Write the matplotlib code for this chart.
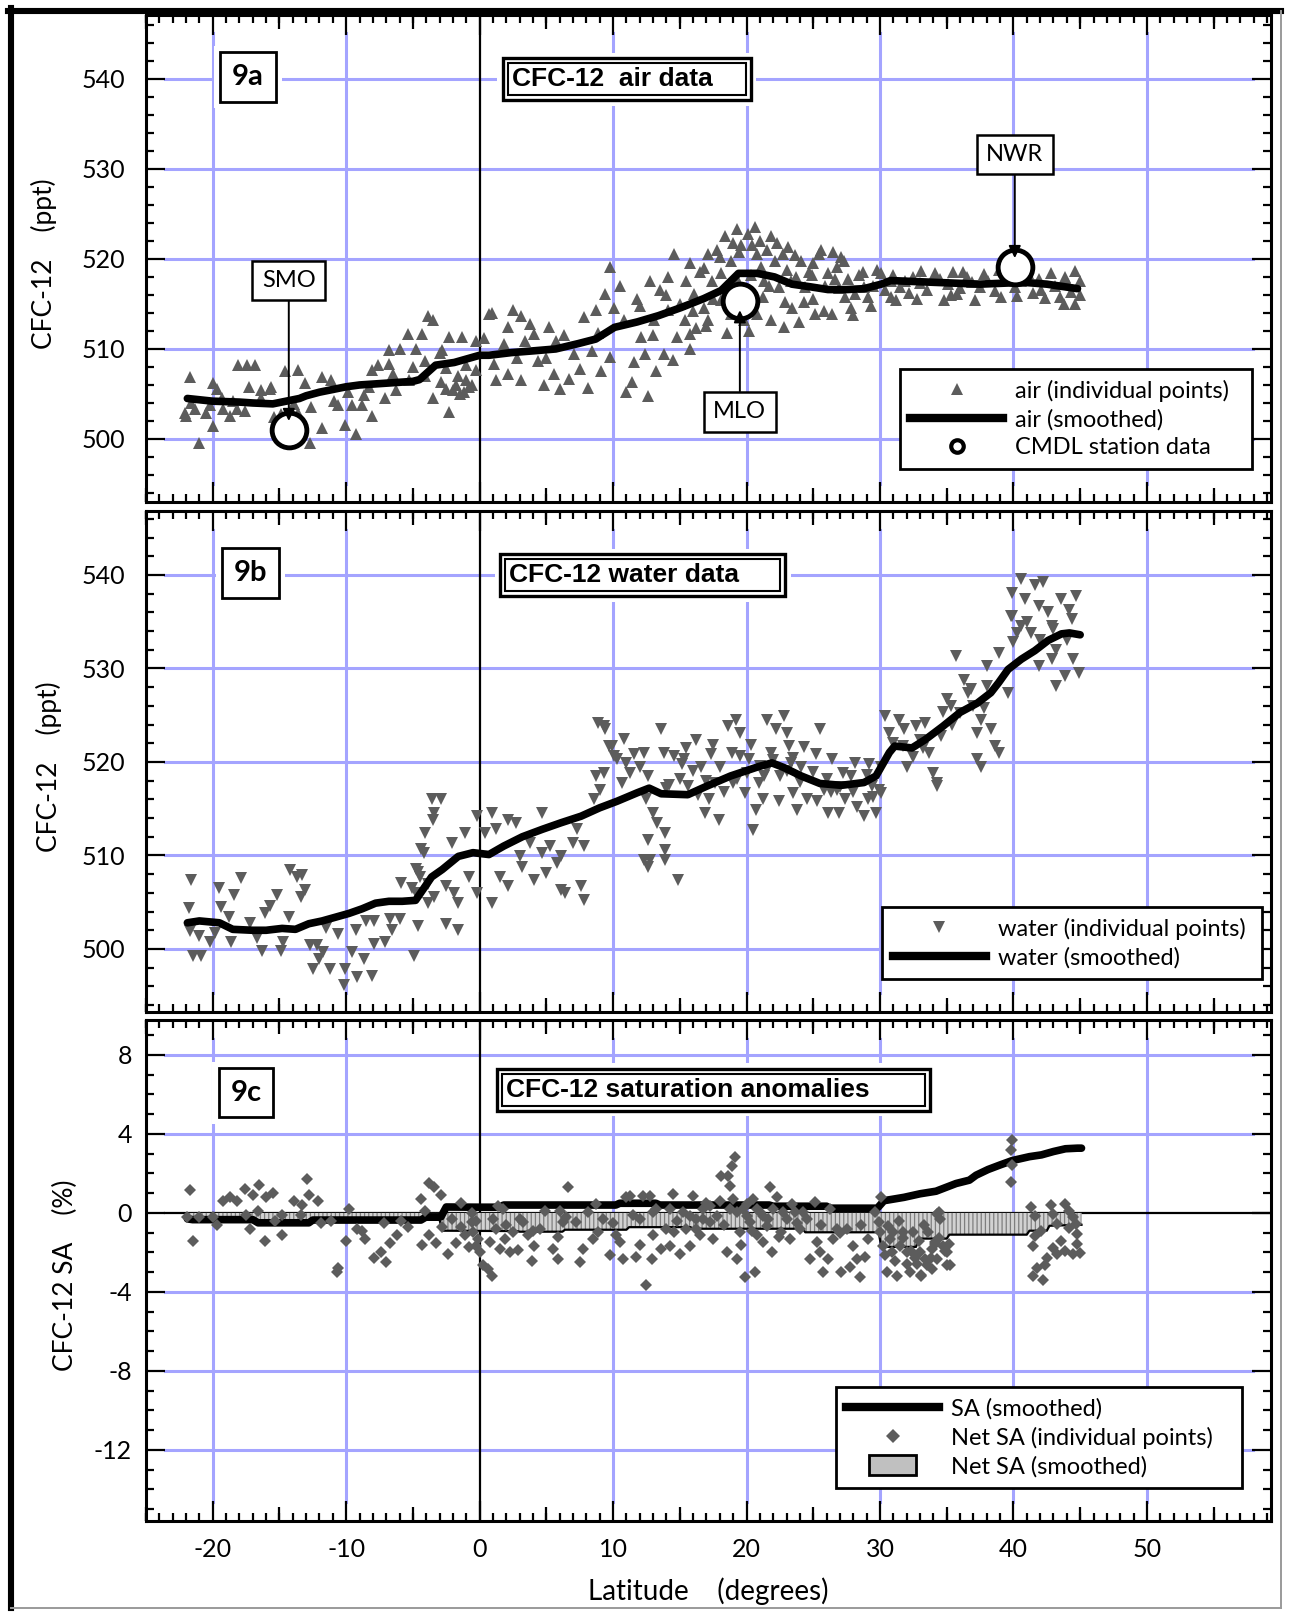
import numpy as np
import matplotlib
matplotlib.use("Agg")
import matplotlib.pyplot as plt
from matplotlib.ticker import MultipleLocator
from matplotlib.lines import Line2D
from matplotlib.patches import Rectangle
from matplotlib.legend_handler import HandlerPatch

# ---------------- data ----------------
# 9a: air, individual points
air_lat = [
    -21.7, -22.0, -21.0, -20.0, -20.0, -18.7, -18.1, -17.4, -16.8, -17.3,
    -16.4, -15.6, -14.6, -13.6, -13.1, -12.6, -11.8, -11.1, -11.8, -12.7,
    -10.1, -9.3, -9.6, -8.7, -8.1, -7.6, -6.8, -6.0, -5.4, -4.3,
    -3.9, -3.5, -4.8, -4.1, -3.5, -2.3, -2.5, -1.8, -0.8, -0.3,
    0.9, 1.2, -2.3, -1.3, -0.3, -2.8, -7.1, -6.3, -5.3, -8.3,
    -9.9, -10.9, -14.9, -14.1, -13.9, -15.4, -18.2, -19.2, -20.5, -21.3,
    -22.1, -21.6, -20.2, -19.7, -19.3, -18.5, -17.6, -16.4, -15.7, -13.6,
    -10.6, -8.8, -8.1, -6.8, -4.1, -2.5, -1.5, -1.0, -2.0, -1.2,
    -0.6, -2.9, -1.6,
    0.7, 2.1, 3.1, 3.4, 4.1, 1.1, 2.1, 3.1, 4.4, 5.6,
    5.7, 6.7, 7.1, 8.1, 8.4, 8.7, 9.4, 9.8, 10.1, 9.1,
    9.8, 10.8, 11.4, 12.1, 12.4, 12.8, 13.1, 13.8, 14.1, 14.1,
    14.8, 14.6, 15.8, 15.8, 15.4, 16.1, 16.8, 17.1, 17.4, 18.1,
    18.4, 18.8, 19.3, 19.4, 20.1, 20.4, 20.8, 21.1, 21.8, 22.1,
    22.4, 23.1, 23.4, 24.1, 24.4, 25.1, 25.4, 25.6, 26.1, 26.4,
    26.8, 27.1, 27.4, 27.8, 28.1, 28.8, 29.1, 22.8, 21.8, 20.8,
    19.8, 18.8, 17.1, 15.8, 18.1, 19.4,
    11.0, 12.6, 6.0, 4.8, 10.5, 11.8, 13.5, 16.5, 17.8, 19.0,
    20.6, 21.5, 22.7, 23.7, 24.7, 25.9, 26.9, 27.6, 28.4, 29.5,
    16.2, 14.5, 13.2, 11.6, 18.5, 20.2, 23.9, 21.3, 22.9, 25.0, 26.5,
    30.1, 30.8, 31.5, 32.5, 33.5, 34.1, 35.1, 35.8, 36.5, 37.5,
    38.1, 39.1, 40.1, 41.1, 42.1, 42.8, 43.5, 44.1, 44.6, 44.6,
    43.8, 34.8, 37.1, 30.8, 33.1,
    31.0, 31.9, 32.2, 33.0, 34.5, 35.5, 36.0, 36.9, 37.8, 38.6,
    39.4, 39.8, 40.6, 41.5, 41.9, 42.4, 43.1, 43.9, 44.3, 45.0,
    45.0, 30.4, 35.3, 38.9, 40.3, 36.2, 32.8, 29.8, 31.2,
    15.0, 15.5, 16.0, 16.8, 17.5, 18.0, 18.7, 19.6, 20.3, 21.0,
    21.7, 22.3, 23.0, 23.6, 24.3, 25.0, 25.8, 26.6, 27.3, 28.0,
    28.7, 29.3, 14.0, 13.0, 12.0, 17.0, 19.2, 21.2, 23.3, 24.9,
    -5.0, -3.0, -1.0, 0.3, 1.8, 2.8, 3.8, 5.0, 6.3, 7.5,
    8.9, -6.5, 2.5, 5.2, 7.8]
air_cfc = [
    506.9, 502.6, 499.6, 506.2, 501.4, 502.5, 508.2, 508.2, 508.2, 505.8,
    505.4, 505.8, 507.5, 507.7, 506.2, 503.6, 506.9, 506.5, 501.2, 499.5,
    501.5, 500.6, 503.8, 504.9, 502.6, 508.2, 509.9, 510.0, 511.7, 511.7,
    513.7, 513.2, 510.0, 508.7, 504.6, 503.0, 505.6, 506.0, 505.8, 507.7,
    514.0, 506.5, 511.3, 511.3, 510.9, 509.9, 504.5, 505.4, 506.5, 505.8,
    505.2, 504.2, 502.8, 503.2, 503.9, 502.4, 503.3, 503.3, 502.9, 503.3,
    502.9, 504.0, 503.8, 505.6, 504.6, 504.2, 503.1, 504.6, 505.6, 502.9,
    503.8, 503.8, 507.7, 508.3, 507.0, 507.9, 505.0, 506.5, 505.4, 505.2,
    506.0, 506.3, 507.0,
    513.9, 512.4, 513.7, 510.9, 511.7, 508.3, 507.2, 506.5, 508.7, 507.2,
    510.9, 506.7, 509.4, 505.7, 509.8, 514.3, 516.1, 519.1, 514.6, 507.6,
    509.1, 513.2, 506.3, 511.3, 509.4, 517.6, 513.2, 509.4, 518.0, 514.3,
    511.3, 520.6, 519.5, 510.0, 513.2, 516.1, 514.6, 520.6, 517.6, 518.4,
    522.5, 519.8, 523.3, 520.8, 522.8, 521.5, 520.6, 519.1, 522.5, 519.8,
    516.9, 521.3, 514.6, 519.8, 516.9, 513.9, 520.6, 521.0, 518.4, 513.9,
    519.1, 520.2, 515.8, 514.6, 516.1, 516.9, 515.8, 512.4, 513.2, 513.9,
    513.2, 513.9, 513.2, 511.7, 515.4, 515.0,
    505.2, 504.8, 505.5, 506.0, 517.0, 515.5, 516.5, 518.5, 521.0, 521.8,
    523.5, 521.0, 520.5, 518.0, 518.5, 517.0, 516.8, 517.8, 518.2, 517.0,
    512.3, 508.8, 507.5, 508.5, 511.8, 512.0, 513.0, 517.5, 515.2, 515.5, 520.8,
    518.4, 517.6, 516.9, 518.0, 516.5, 518.4, 517.2, 516.1, 518.0, 516.9,
    517.6, 515.8, 516.9, 518.4, 516.5, 518.4, 515.8, 517.2, 518.7, 515.0,
    515.0, 515.4, 515.4, 515.8, 518.7,
    518.2, 517.5, 516.2, 517.3, 517.8, 518.5, 516.8, 517.4, 518.3, 516.4,
    517.9, 518.5, 517.6, 516.2, 517.8, 515.7, 517.0, 518.0, 516.3, 517.5,
    516.0, 516.6, 516.0, 518.8, 515.9, 518.6, 515.6, 518.8, 515.4,
    515.0, 517.5, 514.2, 519.0, 515.5, 520.2, 516.8, 521.5, 518.2, 522.0,
    517.0, 521.8, 518.8, 520.4, 515.2, 519.5, 514.2, 517.8, 519.8, 513.8,
    518.5, 514.8, 516.0, 511.5, 514.8, 512.5, 518.0, 515.8, 517.6, 518.2,
    508.0, 509.5, 508.2, 511.2, 510.5, 509.0, 512.8, 509.0, 511.5, 507.8,
    511.8, 507.2, 514.3, 512.4, 513.6]

# 9a: air, smoothed
air_smooth_lat = [-21.9, -20.0, -18.0, -17.0, -15.5, -14.5, -13.5, -13.0, -12.0, -11.0,
                  -10.0, -9.0, -8.0, -7.0, -6.0, -5.0, -4.5, -3.3, -1.9, 0.0,
                  0.7, 2.4, 4.1, 5.7, 7.4, 8.7, 10.1, 11.8, 13.4, 15.1,
                  16.8, 18.1, 19.4, 20.8, 22.1, 23.4, 24.8, 26.1, 27.5, 28.8,
                  30.1, 30.8, 34.1, 37.5, 40.8, 42.5, 44.8]
air_smooth_cfc = [504.5, 504.2, 504.1, 504.0, 503.9, 504.2, 504.5, 504.8, 505.2, 505.5,
                  505.8, 506.0, 506.1, 506.2, 506.3, 506.4, 506.6, 508.2, 508.5, 509.3,
                  509.3, 509.6, 509.8, 510.0, 510.6, 511.1, 512.4, 513.0, 513.7, 514.6,
                  515.6, 516.5, 518.4, 518.4, 518.0, 517.2, 516.9, 516.6, 516.6, 516.7,
                  517.2, 517.6, 517.4, 517.2, 517.4, 517.2, 516.7]

# 9a: CMDL station data
station_names = ["SMO", "MLO", "NWR"]
station_lat = [-14.3, 19.5, 40.1]
station_cfc = [501.0, 515.3, 519.1]

# 9b: water, individual points
water_lat = [
    -21.6, -21.8, -21.7, -21.5, -20.9, -21.0, -20.2, -19.8, -19.5, -19.4,
    -18.8, -18.4, -18.6, -17.9, -17.2, -16.7, -16.3, -16.1, -15.7, -15.2,
    -14.9, -14.7, -14.3, -14.2, -13.7, -13.3, -13.4, -13.1, -12.7, -12.2,
    -12.5, -12.0, -11.7, -11.2, -11.5, -10.6, -10.2, -10.1, -9.6, -9.3,
    -9.2, -8.7, -8.1, -8.5, -7.9, -7.9, -7.1, -6.6, -6.7, -5.9,
    -6.0, -5.1, -4.9, -4.6, -4.4, -4.6,
    -4.8, -4.5, -3.9, -3.6, -2.9, -3.4, -3.5, -4.1, -4.2, -4.8,
    -3.9, -3.4, -2.5, -1.6, -2.1, -2.5, -1.9, -1.6, -1.1, -0.8,
    -0.2, -0.2, 0.4, 0.9, 1.2, 0.9, 1.5, 2.1, 2.1, 2.7,
    3.0, 3.2, 3.8, 4.1, 4.7, 5.0, 5.3, 5.8, 6.1, 6.4,
    7.0, 7.3, 7.6, 7.8, 7.8, 4.7, 6.1,
    8.9, 9.4, 9.9, 10.1, 8.7, 9.0, 8.6, 9.3,
    9.3, 9.7, 10.3, 11.0, 11.3, 10.7, 12.3, 12.6, 12.5, 13.0,
    13.3, 12.6, 12.8, 13.9, 14.9, 13.9, 13.6, 13.8, 14.6, 15.3,
    15.6, 16.2, 16.6, 16.9, 17.2, 17.6, 17.9, 18.6, 18.9, 19.2,
    19.5, 19.9, 20.2, 20.5, 20.7, 20.9, 21.2, 21.5, 21.8, 22.2,
    22.5, 22.8, 23.0, 23.2, 23.5, 23.8, 24.1, 24.5, 25.5, 25.8,
    26.1, 26.4, 26.8, 26.9, 27.4, 28.1, 28.8, 29.1, 29.4, 29.7,
    30.1, 30.1, 30.4, 30.7, 31.4, 31.7, 32.0, 32.7, 33.0, 33.4,
    33.7, 34.0, 34.3, 34.7, 35.0, 35.3, 35.7, 36.3, 36.6, 37.0,
    37.3, 37.6, 38.0, 38.3, 38.6, 38.9, 38.0, 38.9, 39.6, 39.8,
    39.9, 40.6, 40.9, 41.3, 41.6, 41.9, 42.2, 42.6, 42.9, 43.2,
    43.6, 43.9, 44.2, 44.5, 44.7, 44.9, 44.4, 43.2, 41.9, 42.9,
    40.6, 40.3, 39.9, 37.3, 37.6, 34.3, 12.3, 12.6, 13.9,
    14.2, 15.0, 16.0, 17.0, 18.0, 19.0, 20.0, 21.0, 22.0, 23.0,
    24.0, 25.0, 26.0, 27.0, 28.0, 29.0, 15.5, 17.5, 19.5, 21.5,
    23.5, 25.2, 27.8, 29.5,
    10.8, 11.6, 12.0, 14.0, 15.2, 16.4, 17.3, 18.3, 19.3, 20.3,
    21.3, 22.4, 23.3, 24.3, 25.3, 26.3, 27.2, 28.3, 29.2, 29.9,
    31.0, 31.8, 32.5, 33.2, 34.6, 35.4, 36.0, 36.8, 37.8, 42.0,
    43.0, 44.0, 41.0, 40.0]
water_cfc = [
    507.4, 504.4, 501.9, 499.2, 499.2, 501.4, 500.7, 501.7, 506.5, 504.5,
    503.4, 505.8, 500.7, 507.6, 502.8, 501.2, 499.8, 503.9, 504.6, 505.8,
    499.8, 500.7, 503.4, 508.4, 507.7, 507.9, 505.6, 506.3, 500.4, 500.4,
    497.9, 498.9, 499.7, 497.9, 502.2, 501.6, 496.1, 497.9, 499.7, 502.0,
    497.0, 498.9, 497.1, 503.0, 503.0, 500.5, 500.7, 502.0, 503.2, 507.1,
    503.2, 506.5, 499.2, 502.5, 510.7, 508.2,
    508.5, 507.7, 507.0, 516.0, 516.0, 514.5, 513.8, 512.4, 510.3, 506.0,
    504.9, 505.6, 502.7, 502.0, 511.3, 506.7, 506.0, 504.9, 512.4, 507.7,
    514.2, 506.0, 512.4, 514.5, 512.8, 504.9, 507.7, 506.7, 513.8, 513.5,
    509.9, 508.8, 511.3, 507.4, 510.3, 508.1, 511.0, 509.2, 506.3, 506.0,
    511.3, 512.8, 506.7, 505.2, 511.0, 514.5, 509.9,
    524.2, 523.5, 521.7, 520.6, 518.5, 517.0, 516.0, 518.8,
    523.8, 521.7, 520.3, 519.9, 518.8, 517.7, 521.0, 518.5, 516.0, 514.5,
    513.5, 511.7, 509.5, 510.6, 507.4, 512.4, 523.5, 521.0, 520.6, 520.3,
    517.4, 522.4, 519.5, 514.5, 516.0, 517.7, 513.8, 523.8, 521.0, 524.5,
    523.1, 516.7, 520.3, 512.7, 514.9, 517.7, 516.0, 524.5, 521.0, 523.5,
    518.5, 524.9, 523.1, 521.7, 516.7, 514.9, 519.5, 516.0, 523.5, 517.0,
    514.5, 520.3, 517.0, 514.5, 516.0, 519.9, 514.2, 516.0, 517.4, 514.5,
    516.7, 519.5, 524.9, 523.1, 524.5, 521.7, 519.5, 523.8, 522.4, 524.2,
    521.0, 518.8, 517.7, 525.3, 526.7, 526.0, 531.3, 528.8, 527.4, 526.0,
    523.1, 524.5, 528.1, 523.5, 521.7, 521.0, 530.3, 531.7, 527.4, 535.6,
    538.1, 539.6, 537.4, 533.8, 538.9, 536.7, 539.2, 536.0, 531.0, 528.1,
    537.4, 529.2, 536.3, 531.0, 537.8, 529.5, 535.3, 532.0, 530.3, 534.5,
    534.5, 533.8, 535.6, 520.3, 519.5, 517.4, 509.5, 508.8, 509.5,
    517.5, 518.2, 519.0, 518.0, 519.5, 517.8, 518.8, 519.6, 520.2, 519.0,
    517.9, 518.9, 518.2, 517.3, 516.8, 518.6, 521.5, 521.8, 520.6, 519.2,
    520.4, 520.9, 518.5, 516.2,
    522.5, 520.8, 519.5, 517.2, 519.8, 516.5, 520.9, 516.8, 518.2, 521.8,
    518.5, 515.8, 519.9, 521.6, 515.8, 516.8, 518.8, 515.2, 519.8, 517.0,
    522.0, 523.5, 520.5, 521.5, 522.8, 524.0, 525.2, 527.8, 525.8, 533.0,
    534.2, 533.0, 535.0, 532.8]

# 9b: water, smoothed
water_smooth_lat = [-21.9, -21.0, -19.5, -18.5, -17.0, -16.0, -14.8, -13.8, -12.8, -11.8,
                    -10.8, -9.8, -8.8, -7.8, -6.8, -5.8, -4.8, -3.6, -2.8, -1.6,
                    -0.5, 0.7, 1.8, 3.2, 4.7, 6.1, 7.6, 9.0, 10.3, 11.8,
                    12.7, 13.6, 15.6, 17.0, 18.8, 20.9, 21.9, 22.8, 24.1, 25.5,
                    27.1, 28.8, 29.7, 30.7, 31.1, 32.4, 33.4, 34.7, 36.0, 37.3,
                    38.3, 38.9, 39.6, 40.6, 41.6, 42.6, 43.6, 44.2, 45.0]
water_smooth_cfc = [502.8, 503.0, 502.8, 502.1, 502.0, 502.0, 502.2, 502.1, 502.7, 503.0,
                    503.4, 503.8, 504.3, 504.9, 505.1, 505.1, 505.2, 507.7, 508.5, 509.9,
                    510.3, 510.1, 511.0, 512.0, 512.8, 513.5, 514.2, 515.1, 515.8, 516.7,
                    517.2, 516.6, 516.5, 517.4, 518.5, 519.5, 519.9, 519.4, 518.5, 517.7,
                    517.5, 517.8, 518.5, 521.0, 521.7, 521.5, 522.4, 523.8, 525.3, 526.3,
                    527.4, 528.5, 529.9, 531.0, 531.9, 533.0, 533.7, 533.8, 533.6]

# 9c: net saturation anomaly, individual points (%)
sa_lat = [
    -21.7, -21.5, -21.9, -21.0, -20.0, -19.7, -19.2, -18.7, -18.2, -17.6,
    -17.2, -17.0, -16.5, -17.5, -16.6, -16.1, -16.0, -15.5, -15.3, -14.8,
    -14.8, -13.9, -13.4, -12.9, -12.8, -12.1, -13.3, -11.9, -11.1, -10.6,
    -10.7, -10.0, -9.8, -9.2, -8.8, -8.6, -7.9, -7.4, -7.2, -7.0,
    -6.7, -6.2, -5.9, -5.4,
    -4.4, -4.1, -3.8, -3.4, -2.9, -4.3, -3.8, -3.3, -2.8, -2.4,
    -2.1, -1.8, -1.4, -1.1, -0.8, -0.6, -0.3, -0.1, -1.4,
    0.25, 0.6, 0.9, 0.0, -0.25, -0.5, -0.6, 0.75, 1.0, 1.4,
    1.25, 1.5, 1.9, 1.75, 2.25, 2.5, 2.9, 3.0, 3.25, 3.6,
    3.9, 4.1, 4.5, 4.9, 5.5, 5.9, 5.9, 6.25, 6.0, 6.6,
    7.25, 7.5, 7.75, 8.1, 8.75, 8.9, 9.25, 9.75, 10.25, 10.5,
    10.75, 11.0, 11.25, 11.75, 12.0, 12.25, 12.5, 12.75, 12.9, 13.0,
    13.25, 13.6, 14.0, 14.25, 14.5, 14.6, 15.0, 15.25, 15.5, 15.75,
    16.0, 16.25, 16.5, 16.75, 17.25, 17.5, 17.75, 18.0, 18.1, 18.5,
    18.6, 18.75, 18.9, 19.1, 19.0, 19.25, 19.5, 19.75, 19.9, 20.0,
    20.25, 20.5, 20.6, 20.75, 21.0, 21.25, 21.5, 21.75, 21.9, 22.0,
    22.25, 22.6, 23.0, 23.25, 23.6, 24.0, 24.5, 24.75, 25.1, 25.25,
    25.5, 25.75, 26.1, 26.25, 26.5, 26.75, 27.1, 27.5, 27.75, 28.0,
    28.25, 28.5, 28.9, 29.1, 29.6, 29.9, 30.1, 30.0, 30.25, 30.4,
    30.5, 30.6, 30.75, 30.9, 31.0, 31.1, 31.25, 31.5, 31.75, 32.0,
    32.25, 32.5, 32.75, 33.0, 33.1, 33.4, 33.6, 33.9, 34.1, 34.4,
    34.5, 34.75, 35.0, 35.25, 34.25, 33.9,
    13.0, 14.25, 15.75, 16.75, 17.25, 18.75, 19.25, 20.0, 20.75, 21.25,
    22.75, 23.4, 24.25,
    39.9, 39.8, 39.9, 39.8, 41.3, 41.6, 42.8, 43.0, 43.9, 44.2,
    44.5, 44.7, 44.8, 44.8, 45.0, 44.5, 43.9, 43.3, 43.6, 43.0,
    42.5, 42.4, 42.2, 41.8, 41.5, 41.6, 42.1, 41.5, 43.3, 44.2,
    34.3, 34.4, 34.9, 35.0, 35.2, 34.1, 33.8, 33.5, 33.1, 32.6,
    32.3, 31.7,
    2.0, 4.0, 6.5, 8.5, 10.0, 11.5, 12.0, 14.8, 16.2, 17.0,
    18.3, 19.6, 20.4, 21.6, 22.4, 23.8, 25.6, 27.0, 28.6, 31.4,
    32.0, 32.9, 33.3]
sa_net = [
    1.15, -1.4, -0.2, -0.2, -0.2, -0.6, 0.6, 0.8, 0.6, 1.2,
    -0.8, 0.9, 1.4, -0.1, 0.1, -1.4, 0.8, 1.0, -0.4, -1.1,
    -0.1, 0.6, -0.1, 1.7, 0.9, 0.6, 0.4, -0.5, -0.4, -2.8,
    -3.0, -1.4, 0.2, -0.8, -0.9, -1.3, -2.3, -2.0, -0.5, -2.5,
    -1.5, -1.1, -0.4, -0.7,
    0.7, 0.1, 1.5, 1.3, 0.9, -1.6, -1.1, -1.5, -0.7, -2.1,
    -0.3, -1.5, -0.7, -1.1, -1.7, 0.0, -0.4, -1.3, 0.5,
    -2.66, -2.83, -3.17, -1.99, -1.65, -0.98, -0.47, -1.48, -0.30, 0.37,
    -0.81, -1.82, -1.31, 0.20, -1.99, -0.98, -1.90, -0.30, -0.47, -1.14,
    -2.41, -1.65, -0.81, 0.12, -1.82, -2.32, -1.23, -0.47, 0.12, 1.30,
    -0.47, -2.49, -1.82, 0.03, 0.45, -0.98, -0.30, -2.15, -1.14, -1.48,
    -2.32, 0.79, 0.88, -2.24, -0.30, 0.88, -3.67, 0.88, -2.32, -1.14,
    0.20, -1.82, -0.81, -1.65, 0.96, -0.98, -2.07, 0.03, -0.81, -1.65,
    0.88, -0.30, -1.14, 0.20, -0.47, -1.31, -0.13, 0.62, 1.89, -1.99,
    1.89, 1.38, 2.39, 2.81, 0.71, -2.32, -0.98, 0.20, -3.25, -0.13,
    -0.47, 0.71, -3.00, -1.14, 0.03, -1.48, -0.64, 1.30, -1.99, 0.20,
    0.79, -0.98, -0.30, -1.31, 0.03, -0.81, -0.30, -2.32, 0.54, -1.48,
    -1.99, -3.00, -2.32, 0.20, -1.31, -0.81, -3.00, -0.81, -2.74, -1.65,
    -2.32, -3.25, -2.24, -1.31, 0.03, -0.47, 0.79, -0.98, -1.65, -2.15,
    -3.00, -0.64, -1.31, -1.99, -0.98, -2.41, -3.17, -1.65, -0.98, -1.99,
    -3.00, -0.98, -2.58, -1.99, -3.17, -2.32, -0.98, -1.82, -1.48, 0.03,
    -0.30, -1.65, -1.99, -2.66, -2.32, -2.83,
    0.03, 0.20, -0.13, -0.30, 0.37, 0.20, 0.03, 0.45, 0.20, -0.13,
    0.03, 0.45, 0.03,
    3.71, 3.20, 2.43, 1.57, 0.29, -0.14, 0.38, -0.05, 0.46, 0.12,
    -0.22, -0.56, -1.08, -1.59, -2.02, -2.10, -1.93, -2.10, -1.42, -1.76,
    -2.27, -2.62, -3.38, -2.79, -3.21, -1.16, -0.91, -1.68, -0.56, -0.74,
    -0.05, -1.25, -1.93, -2.62, -1.59, -1.59, -2.27, -2.62, -3.13, -2.27,
    -1.93, -1.25,
    -0.6, -0.9, -0.2, -1.3, -0.5, -0.1, -1.6, -0.4, -0.8, 0.5,
    -0.6, -1.6, -0.9, -0.3, -1.2, -0.5, -0.6, -1.0, -0.6, -0.4,
    -2.6, -1.4, -0.6]

# 9c: SA smoothed
sa_smooth_lat = [-21.9, -21.5, -17.0, -16.6, -12.8, -12.5, -4.4, -4.0, -2.9, -2.5,
                 0.0, 1.5, 1.8, 10.2, 10.5, 13.2, 13.5, 21.7, 22.0, 26.0,
                 26.2, 29.8, 30.3, 31.8, 33.0, 34.2, 35.7, 36.7, 37.2, 38.1,
                 39.0, 39.9, 41.2, 42.1, 43.0, 43.9, 44.8, 45.1]
sa_smooth = [-0.30, -0.34, -0.34, -0.50, -0.50, -0.36, -0.36, -0.20, -0.20, 0.30,
             0.29, 0.29, 0.40, 0.40, 0.49, 0.49, 0.40, 0.40, 0.34, 0.34,
             0.24, 0.24, 0.62, 0.79, 0.97, 1.10, 1.49, 1.66, 1.91, 2.20,
             2.43, 2.65, 2.85, 2.94, 3.11, 3.25, 3.28, 3.28]

# 9c: Net SA smoothed
net_smooth_lat = [-21.9, -17.0, -16.6, -12.6, -12.4, -3.0, -2.8, 2.8, 3.0, 6.2,
                  6.4, 11.0, 11.2, 15.8, 16.0, 24.2, 24.4, 29.9, 30.1, 32.7,
                  32.9, 35.0, 35.2, 41.0, 41.2, 42.5, 42.7, 45.1]
net_smooth = [-0.30, -0.30, -0.45, -0.45, -0.35, -0.35, -0.90, -0.92, -0.95, -0.95,
              -0.85, -0.85, -0.72, -0.72, -0.80, -0.80, -0.98, -0.98, -1.72, -1.72,
              -1.30, -1.30, -1.10, -1.10, -0.90, -0.90, -0.65, -0.60]

# ---------------- style ----------------
FONT = ["Lato", "DejaVu Sans"]
NARROW = ["Liberation Sans Narrow", "Liberation Sans", "DejaVu Sans"]
plt.rcParams["font.family"] = FONT
plt.rcParams["axes.unicode_minus"] = False
plt.rcParams["hatch.linewidth"] = 0.9

GRAY = "#5c5c5c"
GRID = "#a4a4ff"
W, H = 1290, 1612

fig = plt.figure(figsize=(W / 100, H / 100), dpi=100)


def add_panel(top, bottom):
    return fig.add_axes([146 / W, 1 - bottom / H, (1271 - 146) / W, (bottom - top) / H])


ax_a = add_panel(15, 502)
ax_b = add_panel(511, 1012)
ax_c = add_panel(1020, 1521)


def style_axes(ax, ylim, ymajor, yminor, ygrid, show_x, ylabel, label_x, ypad):
    ax.set_xlim(-25.0, 59.3)
    ax.set_ylim(*ylim)
    ax.xaxis.set_major_locator(MultipleLocator(10))
    ax.xaxis.set_minor_locator(MultipleLocator(1))
    ax.yaxis.set_major_locator(MultipleLocator(ymajor))
    ax.yaxis.set_minor_locator(MultipleLocator(yminor))
    ax.tick_params(which="both", direction="in", top=True, right=True, width=1.6)
    ax.tick_params(axis="y", which="major", length=13.5, pad=ypad, labelsize=18)
    ax.tick_params(axis="y", which="minor", length=5.5)
    ax.tick_params(axis="x", which="major", length=14.5, pad=12, labelsize=18,
                   labelbottom=show_x)
    ax.tick_params(axis="x", which="minor", length=5.5)
    for sp in ax.spines.values():
        sp.set_linewidth(2.2)
    # medium ticks at the 5-degree marks
    for loc in ("top", "bottom"):
        sec = ax.secondary_xaxis(loc)
        sec.set_ticks(np.arange(-25, 60, 10))
        sec.tick_params(direction="in", length=10, width=1.6,
                        labelbottom=False, labeltop=False)
        for sp in sec.spines.values():
            sp.set_visible(False)
    # grid, stopping short of the frame
    for v in ygrid:
        ax.axhline(v, xmin=0.017, xmax=0.984, color=GRID, lw=2.2, zorder=0.5)
    for v in (-20, -10, 10, 20, 30, 40, 50):
        ax.axvline(v, ymin=0.037, ymax=0.963, color=GRID, lw=2.2, zorder=0.5)
    ax.axvline(0, color="black", lw=1.6, zorder=1)
    ax.set_ylabel(ylabel, fontsize=19)
    ax.yaxis.set_label_coords(label_x, 0.49)


def panel_tag(ax, x, y, s):
    kw = dict(transform=ax.transAxes, ha="center", va="center", fontsize=21,
              fontweight="bold", zorder=20)
    ax.text(x, y, s, bbox=dict(boxstyle="square,pad=0.62", fc="white", ec="none"), **kw)
    ax.text(x, y, s, bbox=dict(boxstyle="square,pad=0.40", fc="white", ec="black", lw=2), **kw)


def title_box(ax, x, y, s):
    kw = dict(transform=ax.transAxes, ha="left", va="center", fontsize=19,
              fontweight="bold", family=NARROW, zorder=20)
    ax.text(x, y, s, bbox=dict(boxstyle="square,pad=0.55", fc="white", ec="none"), **kw)
    ax.text(x, y, s, bbox=dict(boxstyle="square,pad=0.34", fc="white", ec="black", lw=2.4), **kw)
    ax.text(x, y, s, bbox=dict(boxstyle="square,pad=0.15", fc="white", ec="black", lw=1.5), **kw)


def framed_legend(ax, handles, labels, anchor, **extra):
    leg = ax.legend(handles, labels, loc="lower right", bbox_to_anchor=anchor,
                    bbox_transform=ax.transAxes, fontsize=17, frameon=True,
                    fancybox=False, framealpha=1, edgecolor="black",
                    borderaxespad=0, handlelength=3.95, handletextpad=0.5,
                    labelspacing=0.30, borderpad=0.45, **extra)
    leg.get_frame().set_linewidth(2.0)
    leg.set_zorder(20)
    return leg


style_axes(ax_a, (493.0, 547.1), 10, 2, (500, 510, 520, 530, 540), False,
           "CFC-12    (ppt)", -0.079, 15)
style_axes(ax_b, (493.26, 546.84), 10, 2, (500, 510, 520, 530, 540), False,
           "CFC-12    (ppt)", -0.075, 15)
style_axes(ax_c, (-15.6, 9.77), 4, 1, (-12, -8, -4, 4, 8), True,
           "CFC-12 SA    (%)", -0.060, 10)
ax_c.axhline(0, xmin=0.017, xmax=1.0, color="black", lw=1.6, zorder=1)
ax_c.set_xlabel("Latitude    (degrees)", fontsize=20, labelpad=12)

# ---------------- 9a ----------------
ax_a.plot(air_lat, air_cfc, ls="none", marker="^", ms=8.3, mew=0, color=GRAY, zorder=3)
ax_a.plot(air_smooth_lat, air_smooth_cfc, color="black", lw=5.5,
          solid_capstyle="round", solid_joinstyle="round", zorder=4)
ax_a.plot(station_lat, station_cfc, ls="none", marker="o", ms=25, mfc="white",
          mec="black", mew=3.5, zorder=6)
label_y = [517.6, 503.0, 531.6]
tip_offset = [1.0, -1.0, 1.0]
for name, lat, val, ly, off in zip(station_names, station_lat, station_cfc,
                                   label_y, tip_offset):
    ax_a.annotate(name, xy=(lat, val + off), xytext=(lat, ly), ha="center", va="center",
                  fontsize=17, zorder=12,
                  bbox=dict(boxstyle="square,pad=0.40", fc="white", ec="black", lw=1.8),
                  arrowprops=dict(arrowstyle="-|>", color="black", lw=1.4,
                                  mutation_scale=18, shrinkA=0, shrinkB=0))
panel_tag(ax_a, 0.0907, 0.873, "9a")
title_box(ax_a, 0.325, 0.868, "CFC-12  air data    ")
framed_legend(ax_a,
              [Line2D([], [], ls="none", marker="^", ms=9, mew=0, color=GRAY),
               Line2D([], [], color="black", lw=6),
               Line2D([], [], ls="none", marker="o", ms=9, mfc="white", mec="black", mew=3)],
              ["air (individual points)  ", "air (smoothed)", "CMDL station data"],
              (0.983, 0.068))

# ---------------- 9b ----------------
ax_b.plot(water_lat, water_cfc, ls="none", marker="v", ms=8.3, mew=0, color=GRAY, zorder=3)
ax_b.plot(water_smooth_lat, water_smooth_cfc, color="black", lw=5.5,
          solid_capstyle="round", solid_joinstyle="round", zorder=4)
panel_tag(ax_b, 0.093, 0.876, "9b")
title_box(ax_b, 0.323, 0.872, "CFC-12 water data     ")
framed_legend(ax_b,
              [Line2D([], [], ls="none", marker="v", ms=9, mew=0, color=GRAY),
               Line2D([], [], color="black", lw=6)],
              ["water (individual points) ", "water (smoothed)"],
              (0.992, 0.066))

# ---------------- 9c ----------------
ax_c.fill_between(net_smooth_lat, 0, net_smooth, facecolor="#d2d2d2",
                  edgecolor="#7e7e7e", hatch="||||", lw=0, zorder=2)
ax_c.plot(net_smooth_lat, net_smooth, color="black", lw=1.6, zorder=2.5)
ax_c.plot(sa_smooth_lat, sa_smooth, color="black", lw=5.5,
          solid_capstyle="round", solid_joinstyle="round", zorder=3)
ax_c.plot(sa_lat, sa_net, ls="none", marker="D", ms=6.6, mew=0, color=GRAY, zorder=4)
panel_tag(ax_c, 0.089, 0.855, "9c")
title_box(ax_c, 0.320, 0.861, "CFC-12 saturation anomalies       ")


def small_box(legend, orig_handle, xdescent, ydescent, width, height, fontsize):
    return Rectangle((-xdescent + width * 0.25, -ydescent - height * 0.1),
                     width * 0.5, height * 1.2)


framed_legend(ax_c,
              [Line2D([], [], color="black", lw=6),
               Line2D([], [], ls="none", marker="D", ms=7, mew=0, color=GRAY),
               Rectangle((0, 0), 1, 1, facecolor="#c0c0c0", edgecolor="black", lw=2)],
              ["SA (smoothed)", "Net SA (individual points)   ", "Net SA (smoothed)"],
              (0.974, 0.066),
              handler_map={Rectangle: HandlerPatch(patch_func=small_box)})

# ---------------- outer frame ----------------
fig.add_artist(Line2D([11 / W, 11 / W], [1 - 8 / H, 1 - 1608 / H],
                      transform=fig.transFigure, color="black", lw=4.4))
fig.add_artist(Line2D([8 / W, 1281 / W], [1 - 11 / H, 1 - 11 / H],
                      transform=fig.transFigure, color="black", lw=4.4))
fig.add_artist(Line2D([1281 / W, 1281 / W], [1 - 11 / H, 1 - 1608 / H],
                      transform=fig.transFigure, color="#9a9a9a", lw=1.4))
fig.add_artist(Line2D([11 / W, 1281 / W], [1 - 1608 / H, 1 - 1608 / H],
                      transform=fig.transFigure, color="#9a9a9a", lw=1.4))

fig.savefig("out.png", dpi=100)
